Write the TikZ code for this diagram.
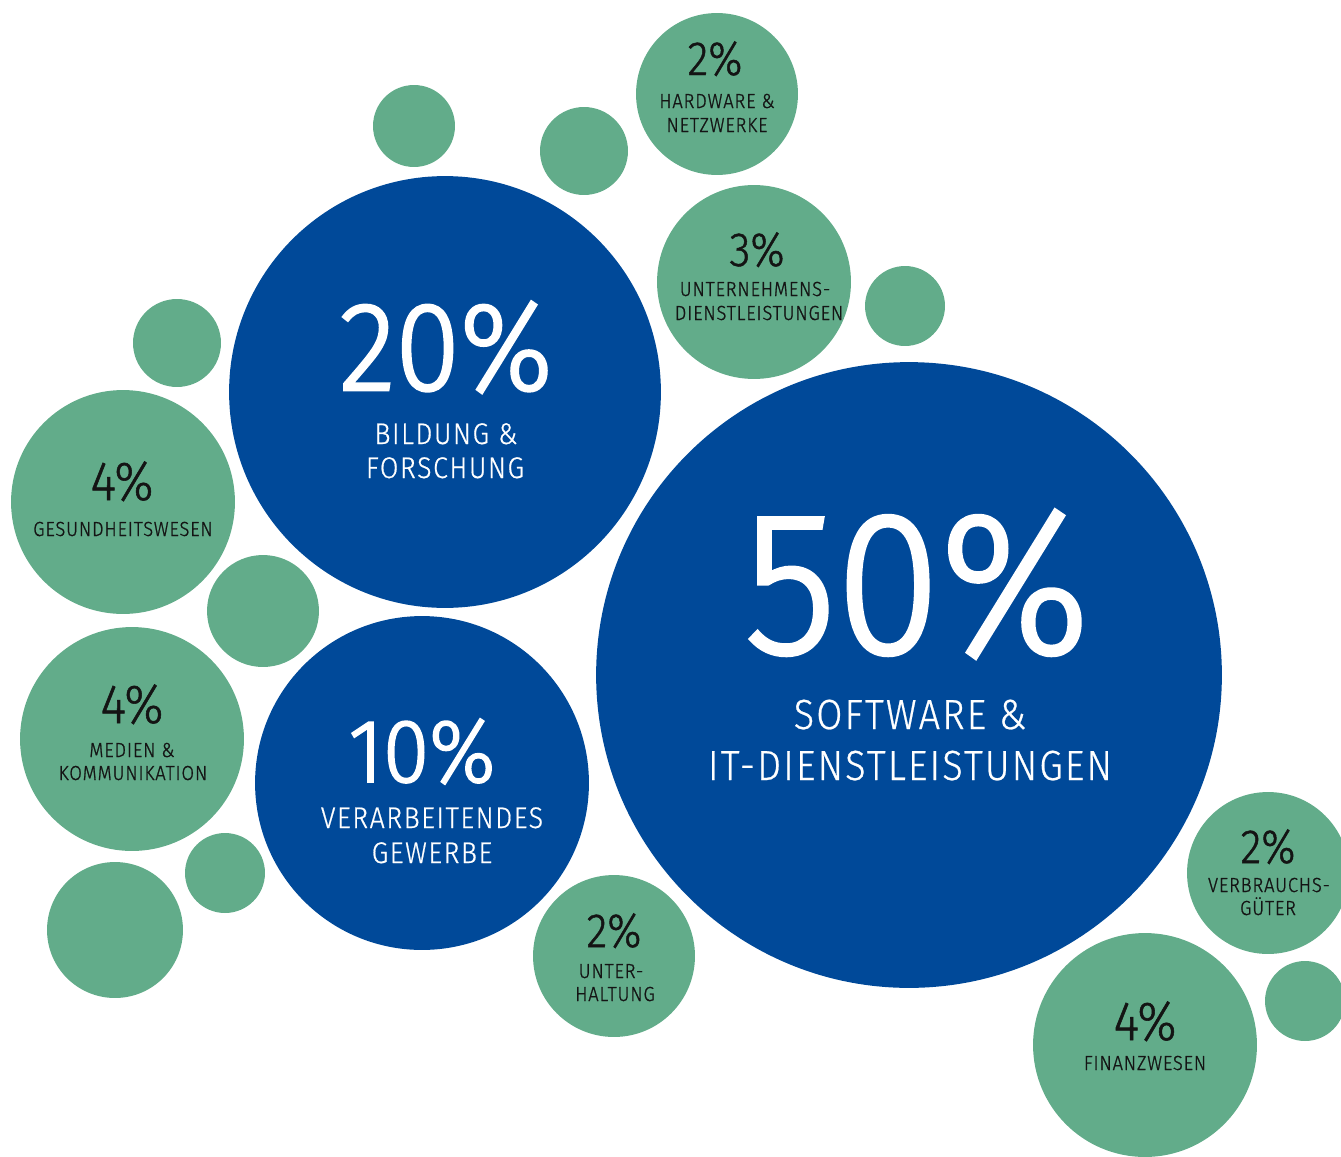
\documentclass[tikz,border=0pt]{standalone}
\usepackage{fontspec}
\newfontfamily\numb{Fira Sans Light}[FakeStretch=0.93,FakeBold=2]
\newfontfamily\numg{Fira Sans Light}[FakeStretch=0.9,FakeBold=1]
\newfontfamily\labg{Fira Sans Light}[FakeStretch=0.9,LetterSpace=4,FakeBold=1]
\newfontfamily\labb{Fira Sans Light}[FakeStretch=0.9,LetterSpace=5,FakeBold=0.6]
\definecolor{bl}{RGB}{0,73,153}
\definecolor{gr}{RGB}{98,172,138}
\definecolor{tx}{RGB}{20,20,20}
\tikzset{
  bubg/.style={circle, fill=gr, inner sep=0pt, minimum size={#1*0.04cm}},
  bubb/.style={circle, fill=bl, inner sep=0pt, minimum size={#1*0.04cm}},
  pg/.style={anchor=base, inner sep=0pt, text depth=0pt, text=tx, font=\numg\fontsize{#1}{#1}\selectfont},
  pb/.style={anchor=base, inner sep=0pt, text depth=0pt, text=white, font=\numb\fontsize{#1}{#1}\selectfont},
  lg/.style={anchor=base, inner sep=0pt, text=tx, font=\labg\fontsize{11.6pt}{11.6pt}\selectfont},
  lb/.style={anchor=base, inner sep=0pt, text=white, font=\labb\fontsize{#1}{#1}\selectfont},
}
\begin{document}
\begin{tikzpicture}[x=0.02cm,y=-0.02cm]
\useasboundingbox (0,0) rectangle (1341,1156);
\clip (0,0) rectangle (1341,1156);
% blue bubbles
\node[bubb=313] (sw) at (909,675) {};
\node[bubb=216] (bf) at (445,392) {};
\node[bubb=167] (vg) at (422,783) {};
% green bubbles with text
\node[bubg=81] (hw) at (717,94) {};
\node[bubg=97] (ud) at (754,282) {};
\node[bubg=112] (gw) at (123,502) {};
\node[bubg=112] (mk) at (132,739) {};
\node[bubg=81] (uh) at (614,956) {};
\node[bubg=81] (vb) at (1268,873) {};
\node[bubg=112] (fw) at (1145,1045) {};
% plain green bubbles
\node[bubg=41] (s1) at (414,126) {};
\node[bubg=44] (s2) at (584,151) {};
\node[bubg=40] (s3) at (905,306) {};
\node[bubg=44] (s4) at (177,343) {};
\node[bubg=56] (s5) at (263,611) {};
\node[bubg=40] (s6) at (225,873) {};
\node[bubg=68] (s7) at (115,930) {};
\node[bubg=40] (s8) at (1305,1001) {};
% texts: 50%
\node[pb=115.5pt] (swp) at (917,653) {50\%};
\node[lb=24pt] (swl1) at (910,729) {SOFTWARE \&};
\node[lb=24pt] (swl2) at (910,780) {IT-DIENSTLEISTUNGEN};
% 20%
\node[pb=71.7pt] (bfp) at (446,390) {20\%};
\node[lb=17pt] (bfl1) at (446,444) {BILDUNG \&};
\node[lb=17pt] (bfl2) at (445,478) {FORSCHUNG};
% 10%
\node[pb=51.2pt] (vgp) at (422,782) {10\%};
\node[lb=17pt] (vgl1) at (432,828) {VERARBEITENDES};
\node[lb=17pt] (vgl2) at (432,863) {GEWERBE};
% hardware
\node[pg=27.3pt] (hwp) at (715,75) {2\%};
\node[lg] (hwl1) at (717,108) {HARDWARE \&};
\node[lg] (hwl2) at (717,132) {NETZWERKE};
% unternehmens
\node[pg=27.3pt] (udp) at (757,266) {3\%};
\node[lg] (udl1) at (755,296) {UNTERNEHMENS-};
\node[lg] (udl2) at (759,320) {DIENSTLEISTUNGEN};
% gesundheit
\node[pg=31.3pt] (gwp) at (122,500) {4\%};
\node[lg] (gwl) at (123,536) {GESUNDHEITSWESEN};
% medien
\node[pg=31.3pt] (mkp) at (132,723) {4\%};
\node[lg] (mkl1) at (132,757) {MEDIEN \&};
\node[lg] (mkl2) at (133,780) {KOMMUNIKATION};
% unterhaltung
\node[pg=27.3pt] (uhp) at (614,947) {2\%};
\node[lg] (uhl1) at (611,978) {UNTER-};
\node[lg] (uhl2) at (615,1001) {HALTUNG};
% verbrauchsgueter
\node[pg=27.3pt] (vbp) at (1268,863) {2\%};
\node[lg] (vbl1) at (1269,892) {VERBRAUCHS-};
\node[lg] (vbl2) at (1268,915) {GÜTER};
% finanz
\node[pg=31.3pt] (fwp) at (1145,1040) {4\%};
\node[lg] (fwl) at (1145,1070) {FINANZWESEN};
\end{tikzpicture}
\end{document}
